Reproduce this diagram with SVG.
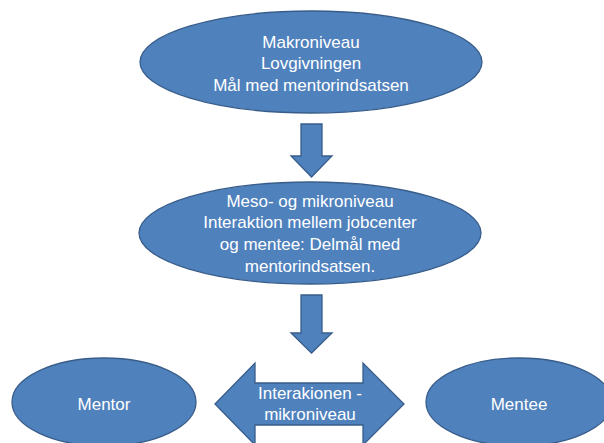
<svg xmlns="http://www.w3.org/2000/svg" width="604" height="443" viewBox="0 0 604 443">
<style>
.shape{fill:#4F81BD;stroke:#385D8A;stroke-width:1.3}
.t{font-family:"Liberation Sans",Arial,sans-serif;font-size:17px;fill:#FFFFFF;text-anchor:middle}
</style>
<rect width="604" height="443" fill="#FFFFFF"/>
<g id="connectors">
<polygon class="shape" points="301,124 322,124 322,156 332,156 311.5,177 291,156 301,156"/>
<polygon class="shape" points="301,295 322,295 322,333 332,333 311.5,353 291,333 301,333"/>
<g id="interaktion">
<polygon class="shape" points="215,404 255,363 255,383 363,383 363,363 404,404 363,445 363,425 255,425 255,445"/>
<text class="t" x="310" y="399">Interakionen -</text>
<text class="t" x="310" y="420">mikroniveau</text>
</g>
</g>
<g id="makro">
<ellipse class="shape" cx="311" cy="62" rx="171" ry="51"/>
<text class="t" x="311" y="48">Makroniveau</text>
<text class="t" x="311" y="69">Lovgivningen</text>
<text class="t" x="311" y="90.5">Mål med mentorindsatsen</text>
</g>
<g id="meso">
<ellipse class="shape" cx="310" cy="233" rx="171" ry="51"/>
<text class="t" x="310" y="206.5">Meso- og mikroniveau</text>
<text class="t" x="310" y="228">Interaktion mellem jobcenter</text>
<text class="t" x="310" y="250">og mentee: Delmål med</text>
<text class="t" x="310" y="271.5">mentorindsatsen.</text>
</g>
<g id="mentor">
<ellipse class="shape" cx="104" cy="402" rx="92" ry="44"/>
<text class="t" x="104" y="410">Mentor</text>
</g>
<g id="mentee">
<ellipse class="shape" cx="519" cy="402" rx="93" ry="44"/>
<text class="t" x="519" y="410">Mentee</text>
</g>
</svg>
